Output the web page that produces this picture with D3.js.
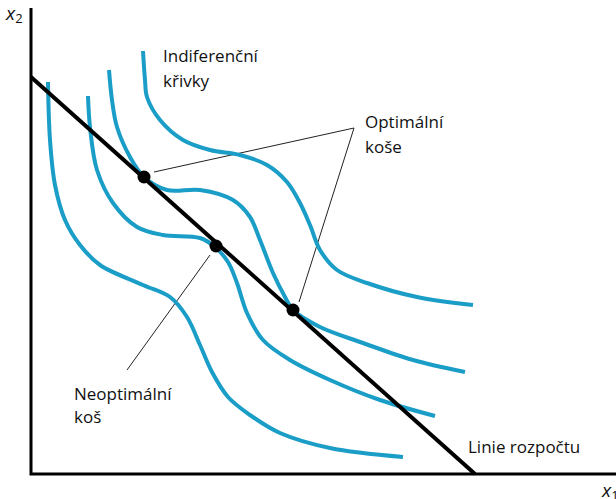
<!DOCTYPE html>
<html>
<head>
<meta charset="utf-8">
<script src="https://cdn.jsdelivr.net/npm/d3@7"></script>
<style>
  body { margin: 0; background: #fff; }
  text { font-family: "Open Sans", sans-serif; fill: #111; }
</style>
</head>
<body>
<div id="chart"></div>
<script>
// indiferencni krivky (x1, x2)
const curve1 = [[3.4,78.4],[3.8,66.8],[4.8,57.8],[6.8,50.8],[9.8,45.8],[13.8,41.8],[22.4,37.8],[27.8,35.4],
  [31.2,31.4],[33.8,25.8],[36.2,20.4],[39.4,15.4],[43.8,11.8],[49.8,8.2],[59.8,5.2],[74.4,3.4]];
const curve2 = [[11.4,75.6],[11.8,69.4],[13.2,60.8],[16.4,54.2],[21.2,49.4],[26.4,47.8],[33.8,47.2],[36.8,45.4],
  [39.4,42.4],[41.2,38.2],[43.2,32.2],[46.4,26.8],[51.8,22.8],[59.8,18.8],[69.8,14.8],[80.8,11.6]];
const curve3 = [[15.6,80.8],[16.2,74.8],[17.2,69.4],[19.8,63.4],[22.6,59.4],[27.2,56.8],[33.8,56.8],[40.4,54.8],
  [43.8,51.4],[45.8,46.8],[48.4,40.2],[50.8,35.4],[52.4,32.8],[57.8,29.4],[66.4,26.2],[76.4,22.8],[86.8,20.4]];
const curve4 = [[22.4,84.6],[22.8,78.8],[23.2,75.4],[25.8,70.8],[30.4,66.8],[35.8,64.8],[41.8,63.8],[47.2,61.8],
  [51.2,58.4],[53.8,54.2],[55.8,49.8],[57.8,44.8],[61.2,40.8],[67.2,38.2],[77.2,35.4],[88.4,33.8]];
const curves = [curve1, curve2, curve3, curve4];

const budget = [[0, 79.4], [88.8, 0]];
const optimal = [[22.6, 59.4], [52.4, 32.8]];
const nonOptimal = [[37, 45.6]];

// popisky a odkazove cary
const leaders = [
  [[64.6, 69.2], [24.6, 60.4]],
  [[64.6, 69.2], [53.6, 34.4]],
  [[35.8, 43.8], [19.2, 20.8]]
];
const labels = [
  { t: "Indiferenční", p: [26.4, 82.4] },
  { t: "křivky", p: [26.4, 77.4] },
  { t: "Optimální", p: [66.8, 69.2] },
  { t: "koše", p: [66.8, 64.2] },
  { t: "Neoptimální", p: [8.6, 14.8] },
  { t: "koš", p: [8.6, 10.2] },
  { t: "Linie rozpočtu", p: [87.4, 4.2] }
];

const width = 616, height = 499;
const x = d3.scaleLinear().domain([0, 117]).range([31, 616]);
const y = d3.scaleLinear().domain([0, 93.2]).range([474, 8]);

const svg = d3.select("#chart").append("svg")
  .attr("width", width)
  .attr("height", height);

const line = d3.line()
  .x(d => x(d[0]))
  .y(d => y(d[1]));

// osy
svg.append("path")
  .attr("d", line([[0, 93.2], [0, 0], [117, 0]]))
  .attr("fill", "none")
  .attr("stroke", "#000")
  .attr("stroke-width", 3);

svg.append("g").selectAll("path")
  .data(leaders)
  .join("path")
  .attr("d", line)
  .attr("fill", "none")
  .attr("stroke", "#222")
  .attr("stroke-width", 1);

svg.append("g").selectAll("path")
  .data(curves)
  .join("path")
  .attr("d", line.curve(d3.curveCatmullRom.alpha(0.5)))
  .attr("fill", "none")
  .attr("stroke", "#1a9dc6")
  .attr("stroke-width", 4);

line.curve(d3.curveLinear);
svg.append("path")
  .attr("d", line(budget))
  .attr("fill", "none")
  .attr("stroke", "#000")
  .attr("stroke-width", 4);

svg.append("g").selectAll("circle")
  .data(optimal.concat(nonOptimal))
  .join("circle")
  .attr("cx", d => x(d[0]))
  .attr("cy", d => y(d[1]))
  .attr("r", 6.5)
  .attr("fill", "#000");

svg.append("g").selectAll("text")
  .data(labels)
  .join("text")
  .attr("x", d => x(d.p[0]))
  .attr("y", d => y(d.p[1]))
  .attr("font-size", 17)
  .text(d => d.t);

// nazvy os
const ax2 = svg.append("text").attr("x", 6).attr("y", 20).attr("font-size", 19);
ax2.append("tspan").attr("font-style", "italic").text("x");
ax2.append("tspan").attr("font-size", 13).attr("dy", 3).text("2");

const ax1 = svg.append("text").attr("x", 602).attr("y", 497).attr("font-size", 19);
ax1.append("tspan").attr("font-style", "italic").text("x");
ax1.append("tspan").attr("font-size", 13).attr("dy", 3).text("1");
</script>
</body>
</html>
